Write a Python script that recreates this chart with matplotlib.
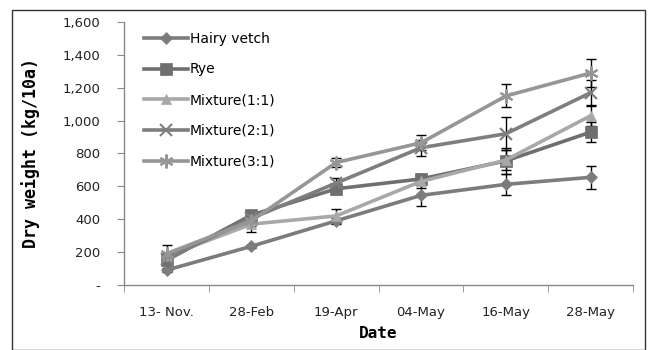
import matplotlib.pyplot as plt
import numpy as np
from matplotlib.ticker import FuncFormatter, FixedLocator
from matplotlib.patches import Rectangle

dates = ["13- Nov.", "28-Feb", "19-Apr", "04-May", "16-May", "28-May"]
series_names = ["Hairy vetch", "Rye", "Mixture(1:1)", "Mixture(2:1)", "Mixture(3:1)"]

hairy_vetch = [90, 235, 390, 545, 612, 655]
hairy_vetch_err = [10, 10, 20, 65, 65, 70]
rye = [150, 425, 585, 645, 755, 930]
rye_err = [30, 20, 30, 30, 80, 60]
mix_11 = [175, 370, 420, 630, 760, 1030]
mix_11_err = [20, 50, 45, 40, 60, 60]
mix_21 = [160, 405, 620, 835, 920, 1170]
mix_21_err = [20, 30, 30, 50, 100, 75]
mix_31 = [190, 390, 745, 865, 1150, 1290]
mix_31_err = [50, 30, 25, 45, 70, 85]

values = [hairy_vetch, rye, mix_11, mix_21, mix_31]
errors = [hairy_vetch_err, rye_err, mix_11_err, mix_21_err, mix_31_err]
colors = ["#7c7c7c", "#6f6f6f", "#a8a8a8", "#7e7e7e", "#969696"]
markers = ["D", "s", "^", "x", (6, 2, 0)]
msizes = [6, 8, 7, 9, 10]

fig = plt.figure(figsize=(6.5, 3.5), dpi=100)
ax = fig.add_axes([0.191, 0.186, 0.783, 0.751])

# outer frame like the Excel chart area
fig.patches.append(Rectangle((12 / 650, 0.0), 633 / 650, 1 - 10 / 350,
                             transform=fig.transFigure, fill=False,
                             edgecolor="#333333", linewidth=1.0))

x = np.arange(len(dates))
for name, v, e, c, m, ms in zip(series_names, values, errors, colors, markers, msizes):
    ax.errorbar(x, v, yerr=e, fmt="none", ecolor="black", elinewidth=1.0,
                capsize=3.5, capthick=1.0, zorder=2)
    ax.plot(x, v, color=c, linewidth=2.6, marker=m, markersize=ms,
            markeredgewidth=1.5 if m in ("x", (6, 2, 0)) else 0.5,
            markeredgecolor=c, markerfacecolor=c, label=name, zorder=3)

ax.set_xlim(-0.5, len(dates) - 0.5)
ax.set_ylim(0, 1600)
ax.set_yticks(np.arange(0, 1601, 200))
ax.yaxis.set_major_formatter(FuncFormatter(lambda v, p: "-" if v == 0 else f"{int(v):,}"))
ax.set_xticks(x)
ax.set_xticklabels(dates)
ax.xaxis.set_minor_locator(FixedLocator(np.arange(-0.5, len(dates), 1.0)))
ax.tick_params(axis="x", which="major", length=0, pad=15, labelsize=9.5, colors="#222222")
ax.tick_params(axis="x", which="minor", length=5, color="#888888", direction="out")
ax.tick_params(axis="y", length=5, color="#888888", labelsize=9.5, labelcolor="#222222", pad=12)

for s in ["top", "right"]:
    ax.spines[s].set_visible(False)
for s in ["left", "bottom"]:
    ax.spines[s].set_color("#888888")
    ax.spines[s].set_linewidth(1.0)

ax.set_ylabel("Dry weight (kg/10a)", fontsize=12, fontweight="bold",
              family="DejaVu Sans Mono", labelpad=16)
ax.set_xlabel("Date", fontsize=11.5, fontweight="bold", family="DejaVu Sans Mono", labelpad=5)

leg = ax.legend(loc="upper left", bbox_to_anchor=(0.02, 1.0), frameon=False,
                fontsize=10, handlelength=3.2, handletextpad=0.1,
                labelspacing=1.2, borderaxespad=0.3)

fig.savefig("out.png", dpi=100)
